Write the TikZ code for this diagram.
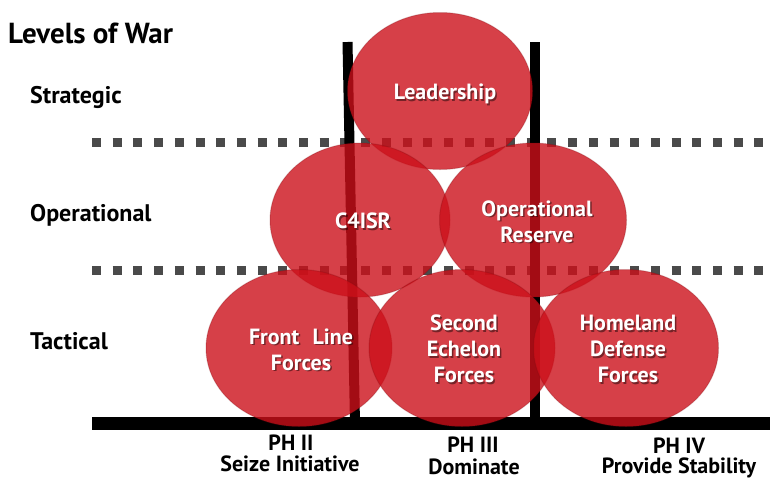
\documentclass[tikz,border=0pt]{standalone}
\usepackage{fontspec}
\setmainfont{PT Sans}
\usetikzlibrary{shapes.geometric}
\definecolor{ered}{RGB}{204,16,26}
\definecolor{dotgray}{RGB}{74,74,74}
\begin{document}
\begin{tikzpicture}[x=1pt,y=-1pt,
  blob/.style={ellipse, fill=ered, fill opacity=0.8, draw=ered!60!black, draw opacity=0.25, line width=1pt, inner sep=0pt},
  etext/.style={text=white, align=center, inner sep=0pt, font=\bfseries\fontsize{22}{26}\selectfont},
  eshadow/.style={etext, text=black, text opacity=0.45},
  lbl/.style={anchor=base west, inner sep=0pt, font=\bfseries\fontsize{24}{26}\selectfont},
  phl/.style={anchor=base, inner sep=0pt, font=\bfseries\fontsize{22}{24}\selectfont},
  dotline/.style={draw=dotgray, line width=9pt, dash pattern=on 9pt off 11.7pt},
  bar/.style={draw=black, line width=10pt},
  basebar/.style={draw=black, line width=13pt}]
\useasboundingbox (0,0) rectangle (770,480);

% titles and level labels
\node[anchor=base west, inner sep=0pt, font=\bfseries\fontsize{29}{32}\selectfont] (title) at (8,43) {Levels of War};
\node[lbl] (strat) at (30,103) {Strategic};
\node[lbl] (oper) at (30,221) {Operational};
\node[lbl] (tact) at (30,349) {Tactical};

% dotted separators
\coordinate (d1a) at (92,142); \coordinate (d1b) at (770,142);
\coordinate (d2a) at (92,270); \coordinate (d2b) at (770,270);
\draw[dotline] (d1a) -- (d1b);
\draw[dotline] (d2a) -- (d2b);

% phase bars
\coordinate (v1t) at (347.5,42); \coordinate (v1b) at (355,424);
\coordinate (v2t) at (535,42); \coordinate (v2b) at (535,424);
\coordinate (ba) at (92,423.5); \coordinate (bb) at (770,423.5);
\draw[bar] (v1t) -- (v1b);
\draw[bar] (v2t) -- (v2b);
\draw[basebar] (ba) -- (bb);

% ellipses
\node[blob, minimum width=185pt, minimum height=157pt] (lead) at (440,91) {};
\node[blob, minimum width=180pt, minimum height=154pt] (c4) at (360,220) {};
\node[blob, minimum width=187pt, minimum height=154pt] (opres) at (533,220) {};
\node[blob, minimum width=186pt, minimum height=157pt] (front) at (299,348) {};
\node[blob, minimum width=186pt, minimum height=157pt] (second) at (462,348) {};
\node[blob, minimum width=185pt, minimum height=157pt] (home) at (626,348) {};

% text shadows
\node[eshadow] (leadS) at (446.5,95.5) {Leadership};
\node[eshadow] (c4S) at (364.5,222.5) {C4ISR};
\node[eshadow] (opresS) at (538.5,223) {Operational\\Reserve};
\node[eshadow] (frontS) at (302.5,351) {Front\hspace{0.6em}Line\\Forces};
\node[eshadow] (secondS) at (465.5,350.5) {Second\\Echelon\\Forces};
\node[eshadow] (homeS) at (629.5,350.5) {Homeland\\Defense\\Forces};

% texts
\node[etext] (leadT) at (445,94) {Leadership};
\node[etext] (c4T) at (363,221) {C4ISR};
\node[etext] (opresT) at (537,221.5) {Operational\\Reserve};
\node[etext] (frontT) at (301,349.5) {Front\hspace{0.6em}Line\\Forces};
\node[etext] (secondT) at (464,349) {Second\\Echelon\\Forces};
\node[etext] (homeT) at (628,349) {Homeland\\Defense\\Forces};

% phase labels
\node[phl] (ph2) at (291,450) {PH II};
\node[phl] (ph2b) at (290,471) {Seize Initiative};
\node[phl] (ph3) at (473,452) {PH III};
\node[phl] (ph3b) at (474,474) {Dominate};
\node[phl] (ph4) at (679,453) {PH IV};
\node[phl] (ph4b) at (679,473) {Provide Stability};
\end{tikzpicture}
\end{document}
